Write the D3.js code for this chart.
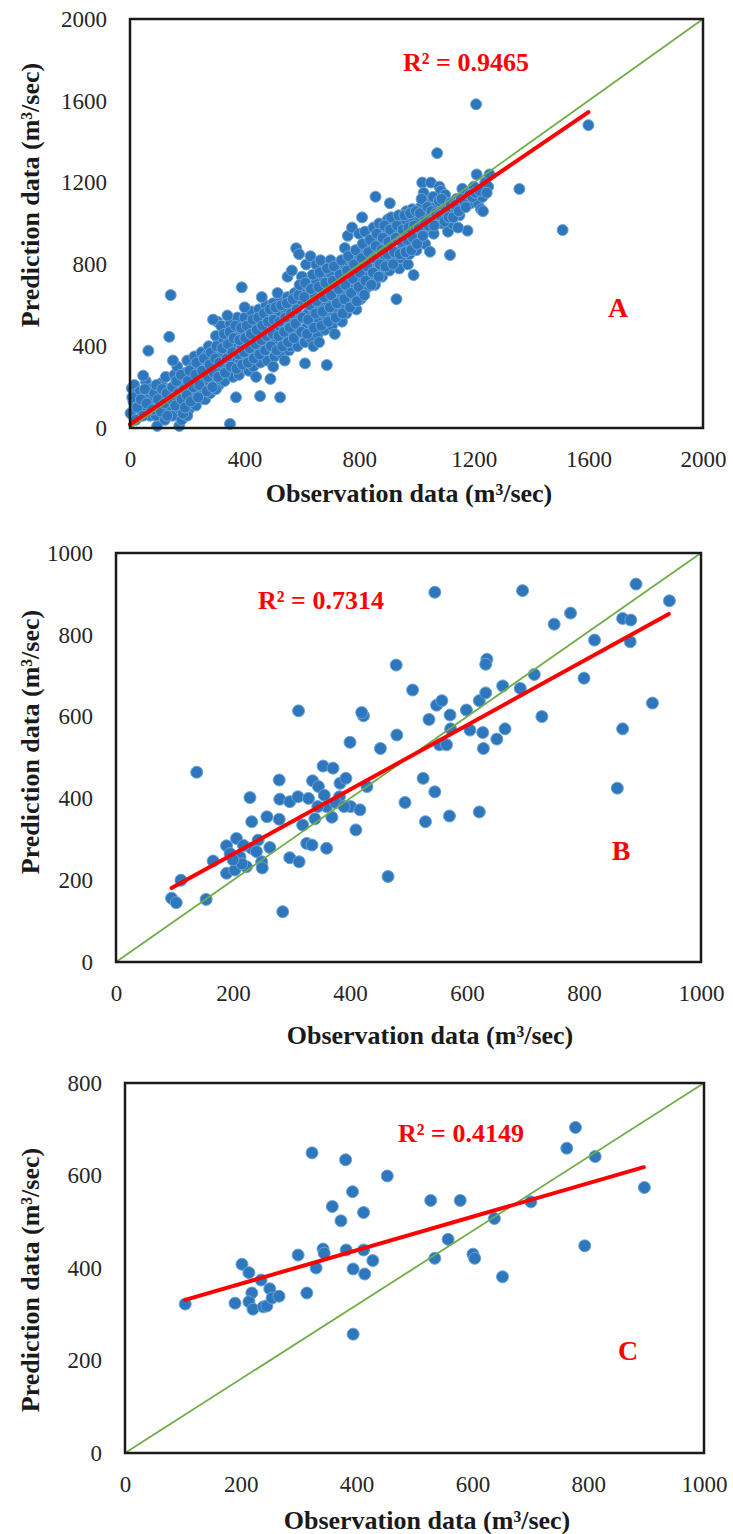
<!DOCTYPE html>
<html>
<head>
<meta charset="utf-8">
<script src="https://cdn.jsdelivr.net/npm/d3@7"></script>
<style>
body { margin: 0; background: #fff; }
svg { display: block; font-family: "Liberation Serif", "Times New Roman", serif; }
</style>
</head>
<body>
<div id="chart"></div>
<script>
// -DATA-
// panel A: [observation, prediction]
const pointsA = [
  [2,72],[6,194],[15,210],[20,165],[30,120],[35,180],[40,90],[12,130],
  [50,150],[55,230],[64,378],[60,100],[70,60],[72,190],[46,256],[80,140],
  [95,10],[90,60],[100,110],[105,170],[110,220],[118,80],[122,40],[125,250],[115,140],
  [137,446],[142,650],[135,190],[140,100],[150,60],[155,260],[160,150],[165,300],[170,220],[172,10],[175,90],[150,330],
  [180,40],[185,130],[190,200],[195,270],[200,330],[205,90],[210,170],[215,240],[220,300],[225,350],[218,120],[200,60],
  [230,110],[235,180],[240,250],[245,320],[250,370],[255,150],[260,220],[265,290],[270,360],[275,400],[262,140],[248,200],
  [280,170],[285,240],[290,310],[295,380],[300,450],[305,520],[310,210],[315,280],[320,350],[325,420],[318,500],[300,190],[290,530],
  [330,230],[335,300],[340,370],[345,440],[350,510],[355,260],[360,330],[365,400],[370,470],[375,540],[349,20],[370,150],[340,550],[360,250],
  [380,260],[385,330],[390,400],[395,470],[400,540],[390,688],[405,290],[410,360],[415,430],[420,500],[425,570],[400,590],[415,280],
  [430,300],[435,370],[440,440],[445,510],[450,580],[454,156],[455,320],[460,390],[465,460],[470,530],[475,600],[460,640],[440,250],
  [480,330],[485,400],[490,470],[495,540],[500,610],[505,350],[510,420],[515,490],[520,560],[524,150],[525,640],[500,300],[515,660],[490,240],
  [530,360],[535,430],[540,500],[545,570],[550,640],[555,380],[560,450],[565,520],[570,590],[575,660],[550,740],[565,770],[540,330],[560,400],
  [580,879],[590,850],[585,400],[590,470],[595,540],[600,610],[605,680],[611,316],[610,420],[615,490],[620,560],[625,630],[600,740],[620,700],[615,800],[630,840],
  [630,440],[635,510],[640,580],[645,650],[650,720],[655,460],[660,530],[665,600],[670,670],[675,740],[650,800],[665,820],[640,400],[660,420],
  [687,308],[680,480],[685,550],[690,620],[695,690],[700,760],[705,500],[710,570],[715,640],[720,710],[725,780],[700,820],[715,460],
  [730,540],[735,600],[740,660],[745,730],[750,800],[755,560],[760,620],[765,680],[770,750],[775,820],[750,880],[760,940],[775,980],[740,520],
  [780,600],[785,660],[790,720],[795,780],[800,850],[805,630],[810,690],[815,750],[820,810],[825,880],[800,950],[820,960],[790,580],[810,1030],
  [830,690],[835,740],[840,790],[845,850],[850,910],[857,1131],[855,700],[860,760],[865,810],[870,870],[875,930],[850,980],[870,1000],[907,1099],
  [880,740],[885,790],[890,840],[895,900],[900,960],[905,770],[910,820],[915,870],[920,920],[925,980],[930,630],[900,1020],
  [940,780],[945,830],[950,880],[955,940],[960,1010],[970,800],[975,850],[980,900],[985,960],[990,748],[990,1030],[965,1060],[985,1070],
  [1000,870],[1005,940],[1010,1010],[1015,1080],[1020,1200],[1030,900],[1035,970],[1040,1040],[1045,1110],[1047,862],[1050,1200],[1025,1150],
  [1060,950],[1065,1020],[1070,1090],[1072,1344],[1080,1180],[1085,1160],[1090,1000],[1095,1070],[1100,1140],[1117,846],[1110,960],[1105,1100],
  [1125,1000],[1130,1060],[1140,1120],[1150,1040],[1160,1090],[1170,1150],[1178,965],[1160,1170],[1145,980],
  [1190,1100],[1200,1180],[1210,1240],[1208,1583],[1215,1100],[1225,1070],[1230,1130],[1240,1200],[1250,1180],[1255,1240],[1232,1060],
  [1359,1169],[1510,968],[1600,1481],
  // the dense middle of the cloud
  [8,150],[25,100],[38,140],[52,190],[58,120],[45,60],[20,40],
  [78,90],[85,170],[92,210],[98,140],[108,80],[112,190],[120,120],[128,170],[130,60],
  [145,140],[148,200],[158,110],[162,230],[168,170],[178,260],[180,140],[185,70],[188,190],
  [192,100],[198,160],[202,230],[208,280],[212,130],[222,200],[228,260],[232,320],[238,150],[242,210],
  [252,280],[258,340],[268,180],[272,250],[278,310],[282,370],[288,200],[292,270],
  [298,340],[302,400],[308,250],[312,320],[322,390],[328,460],[332,270],[338,340],[342,410],[348,470],
  [352,300],[358,370],[362,440],[368,500],[372,290],[378,360],[382,430],[388,490],[392,310],[398,370],
  [402,440],[408,500],[412,320],[418,390],[422,460],[428,530],[432,340],[438,410],[442,480],[448,540],
  [452,360],[458,430],[462,500],[468,560],[472,380],[478,450],[482,520],[488,580],[492,400],[498,460],
  [502,530],[508,590],[512,380],[518,450],[522,520],[528,600],[532,400],[538,470],[542,540],[548,610],
  [552,420],[558,490],[562,560],[568,630],[572,440],[578,510],[582,580],[588,650],[592,700],[598,470],
  [602,540],[608,640],[612,710],[618,460],[622,530],[628,600],[632,680],[638,750],[642,490],[648,560],
  [652,620],[658,690],[662,760],[668,500],[672,570],[678,640],[682,710],[688,780],[692,520],[698,590],
  [702,650],[708,720],[712,790],[718,540],[722,610],[728,680],[732,750],[738,820],[742,560],[748,630],
  [752,700],[758,770],[762,840],[768,590],[772,660],[778,730],[782,800],[788,870],[792,620],[798,690],
  [802,760],[808,830],[812,900],[818,650],[822,720],[828,790],[832,860],[838,920],[842,700],[848,760],
  [852,830],[858,890],[862,950],[868,740],[872,800],[878,870],[882,930],[888,990],[892,790],[898,850],
  [902,910],[908,970],[912,1030],[918,800],[922,860],[928,930],[932,990],[938,1040],[942,850],[948,910],
  [952,970],[958,1040],[962,860],[968,920],[972,980],[978,1050],[982,870],[988,930],[992,990],[998,1060],
  [1002,900],[1008,980],[1012,1050],[1018,1120],[1022,940],[1028,1010],[1038,1080],[1042,990],[1052,1060],[1058,1130],
  [1062,990],[1068,1050],[1078,1110],[1082,1040],[1088,1120],[1098,1010],[1102,1060],[1112,1030],[1118,1100],
  [1128,1030],[1135,1090],[1148,1060],[1155,1120],[1165,1110],[1172,1080],[1185,1140],[1195,1130],[1205,1150],[1220,1160],[1245,1150]
];

// panel B
const pointsB = [
  [95,156],[103,145],[111,200],[154,153],[138,464],[166,247],[189,284],[189,217],[206,302],[203,225],
  [212,257],[223,233],[232,278],[232,343],[229,402],[243,298],[249,245],[258,355],[263,280],[279,445],
  [280,398],[279,349],[285,123],[297,392],[297,255],[311,404],[313,245],[312,614],[319,335],[329,400],
  [326,290],[335,286],[336,443],[346,429],[354,479],[371,474],[356,408],[360,380],[360,278],[369,354],
  [383,437],[393,449],[382,404],[401,380],[410,323],[417,372],[400,537],[423,602],[420,610],[452,522],
  [465,209],[479,726],[480,555],[494,390],[507,665],[429,429],
  [195,265],[215,240],[240,270],[250,230],[218,285],[200,250],[340,350],[345,380],[375,390],[390,380],
  [545,904],[525,449],[545,416],[529,343],[570,357],[621,367],[535,593],[548,628],[557,639],[571,604],
  [599,616],[572,570],[605,567],[553,531],[565,531],[627,561],[628,522],[651,545],[665,570],[621,639],
  [632,658],[661,675],[634,740],[632,728],[691,669],[715,703],[728,600],[695,908],[749,826],[777,853],
  [800,694],[818,787],[866,840],[880,836],[879,783],[889,924],[946,883],[917,633],[866,570],[857,425]
];

// panel C
const pointsC = [
  [104,322],[190,324],[202,408],[214,390],[235,374],[219,346],[214,327],[221,311],[239,316],[245,318],
  [250,355],[254,335],[266,339],[299,428],[314,346],[330,400],[342,441],[344,432],[382,439],[373,502],
  [358,533],[393,565],[412,520],[394,398],[412,439],[414,387],[428,416],[381,634],[323,649],[453,599],
  [394,257],[528,546],[579,546],[638,507],[558,462],[535,421],[601,430],[604,421],[652,381],[701,543],
  [763,659],[778,704],[812,641],[794,448],[897,574]
];

// trend line end points [obs, pred]
const trendA = [[0,17],[1600,1545]];
const trendB = [[95,181],[945,851]];
const trendC = [[104,331],[896,618]];

// axis ticks
const xTicksA = [0,400,800,1200,1600,2000];
const yTicksA = [0,400,800,1200,1600,2000];
const xTicksB = [0,200,400,600,800,1000];
const yTicksB = [0,200,400,600,800,1000];
const xTicksC = [0,200,400,600,800,1000];
const yTicksC = [0,200,400,600,800];

const r2Labels = ["R\u00B2 = 0.9465", "R\u00B2 = 0.7314", "R\u00B2 = 0.4149"];
const panelLetters = ["A", "B", "C"];

const xTitle = "Observation data (m\u00B3/sec)";
const yTitle = "Prediction data (m\u00B3/sec)";

// -LAYOUT-
const W = 733, H = 1534;

const panels = [
  { pts: pointsA, trend: trendA, xt: xTicksA, yt: yTicksA, r: 5.5,
    box: {l:130, r:703, t:19, b:428}, yTitleY: 195, xTitle: [409, 493],
    r2: [403, 71], letter: [618, 317] },
  { pts: pointsB, trend: trendB, xt: xTicksB, yt: yTicksB, r: 6,
    box: {l:116, r:701, t:553, b:962}, yTitleY: 742, xTitle: [430, 1035],
    r2: [258, 609], letter: [621, 860] },
  { pts: pointsC, trend: trendC, xt: xTicksC, yt: yTicksC, r: 6,
    box: {l:125, r:704, t:1083, b:1453}, yTitleY: 1280, xTitle: [427, 1520],
    r2: [398, 1142], letter: [628, 1360] }
];

const svg = d3.select("#chart")
  .append("svg")
  .attr("width", W)
  .attr("height", H);

svg.append("rect").attr("width", W).attr("height", H).attr("fill", "#fff");

panels.forEach((p, i) => {
  const x = d3.scaleLinear()
    .domain([p.xt[0], p.xt[p.xt.length - 1]])
    .range([p.box.l, p.box.r]);
  const y = d3.scaleLinear()
    .domain([p.yt[0], p.yt[p.yt.length - 1]])
    .range([p.box.b, p.box.t]);

  const g = svg.append("g");

  // axes (labels only)
  const xAxis = g.append("g")
    .attr("transform", "translate(0," + p.box.b + ")")
    .call(d3.axisBottom(x).tickValues(p.xt).tickSize(0).tickPadding(23).tickFormat(d3.format("d")));
  const yAxis = g.append("g")
    .attr("transform", "translate(" + p.box.l + ",0)")
    .call(d3.axisLeft(y).tickValues(p.yt).tickSize(0).tickPadding(23).tickFormat(d3.format("d")));
  [xAxis, yAxis].forEach(a => {
    a.select(".domain").remove();
    a.selectAll("text")
      .attr("font-family", "Liberation Serif, serif")
      .attr("font-size", 23)
      .attr("fill", "#262626");
  });

  // points
  g.append("g")
    .selectAll("circle")
    .data(p.pts)
    .enter()
    .append("circle")
    .attr("cx", d => x(d[0]))
    .attr("cy", d => y(d[1]))
    .attr("r", p.r)
    .attr("fill", "#2e77bc")
    .attr("stroke", "#6aa3d8")
    .attr("stroke-width", 1);

  // corner to corner line
  const xd = x.domain(), yd = y.domain();
  g.append("line")
    .attr("x1", x(xd[0])).attr("y1", y(yd[0]))
    .attr("x2", x(xd[1])).attr("y2", y(yd[1]))
    .attr("stroke", "#70ad47")
    .attr("stroke-width", 1.8);

  // trend line
  g.append("line")
    .attr("x1", x(p.trend[0][0])).attr("y1", y(p.trend[0][1]))
    .attr("x2", x(p.trend[1][0])).attr("y2", y(p.trend[1][1]))
    .attr("stroke", "#ff0000")
    .attr("stroke-width", 4)
    .attr("stroke-linecap", "round");

  // plot box
  g.append("rect")
    .attr("x", p.box.l).attr("y", p.box.t)
    .attr("width", p.box.r - p.box.l)
    .attr("height", p.box.b - p.box.t)
    .attr("fill", "none")
    .attr("stroke", "#1a1a1a")
    .attr("stroke-width", 2.5);

  // R2 and letter
  g.append("text")
    .attr("x", p.r2[0]).attr("y", p.r2[1])
    .attr("font-size", 26).attr("font-weight", "bold")
    .attr("fill", "#ff0000")
    .text(r2Labels[i]);
  g.append("text")
    .attr("x", p.letter[0]).attr("y", p.letter[1])
    .attr("text-anchor", "middle")
    .attr("font-size", 28).attr("font-weight", "bold")
    .attr("fill", "#ff0000")
    .text(panelLetters[i]);

  // titles
  g.append("text")
    .attr("x", p.xTitle[0]).attr("y", p.xTitle[1])
    .attr("text-anchor", "middle")
    .attr("dominant-baseline", "central")
    .attr("font-size", 26).attr("font-weight", "bold")
    .attr("fill", "#1a1a1a")
    .text(xTitle);
  g.append("text")
    .attr("transform", "translate(30," + p.yTitleY + ") rotate(-90)")
    .attr("text-anchor", "middle")
    .attr("dominant-baseline", "central")
    .attr("font-size", 26).attr("font-weight", "bold")
    .attr("fill", "#1a1a1a")
    .text(yTitle);
});
</script>
</body>
</html>
